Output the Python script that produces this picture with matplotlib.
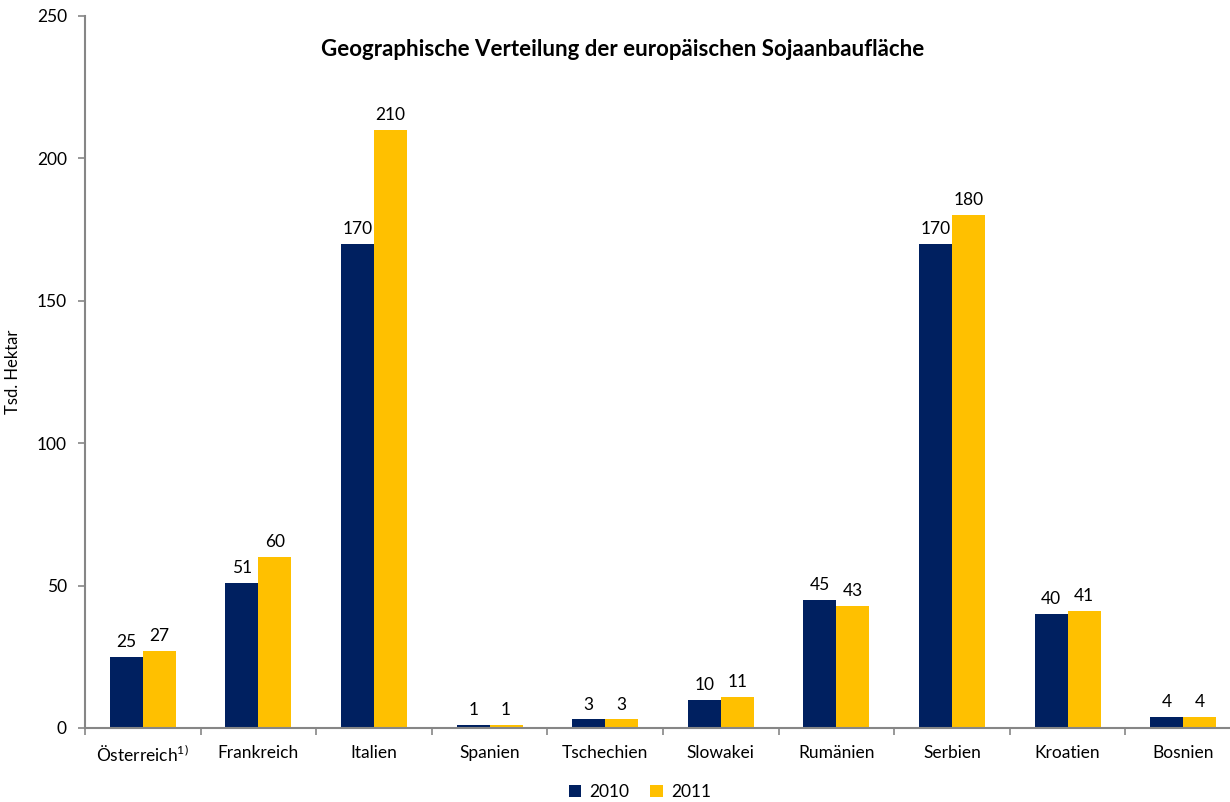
import matplotlib.pyplot as plt
import numpy as np

plt.rcParams['font.family'] = ['Lato', 'DejaVu Sans']

laender = ["Österreich$^{\\mathregular{1)}}$", "Frankreich", "Italien", "Spanien", "Tschechien",
           "Slowakei", "Rumänien", "Serbien", "Kroatien", "Bosnien"]
werte_2010 = [25, 51, 170, 1, 3, 10, 45, 170, 40, 4]
werte_2011 = [27, 60, 210, 1, 3, 11, 43, 180, 41, 4]

navy = "#002060"
gelb = "#FFC000"
grau = "#868686"

fig = plt.figure(figsize=(12.3, 8.02), dpi=100)
ax = fig.add_axes([85 / 1230, 74 / 802, (1241 - 85) / 1230, (729 - 17) / 802])

x = np.arange(len(laender))
w = 0.285
b1 = ax.bar(x - w / 2, werte_2010, w, color=navy, label="2010")
b2 = ax.bar(x + w / 2, werte_2011, w, color=gelb, label="2011")

for bars, vals in [(b1, werte_2010), (b2, werte_2011)]:
    for r, v in zip(bars, vals):
        ax.annotate(str(v), (r.get_x() + r.get_width() / 2, v), xytext=(0, 5),
                    textcoords="offset points", ha="center", va="bottom", fontsize=12.5)

ax.set_xlim(-0.5, len(laender) - 0.5)
ax.set_ylim(0, 250)
ax.set_yticks([0, 50, 100, 150, 200, 250])
ax.set_xticks(np.arange(-0.5, len(laender), 1), minor=False)
ax.set_xticklabels([])
ax.set_xticks(x, minor=True)
ax.set_xticklabels(laender, minor=True, fontsize=12.5)
ax.tick_params(axis="x", which="minor", length=0, pad=12)
ax.tick_params(axis="x", which="major", length=5, color=grau, width=1.2)
ax.tick_params(axis="y", length=5, color=grau, width=1.2, labelsize=12.5, pad=8)

for s in ["top", "right"]:
    ax.spines[s].set_visible(False)
for s in ["left", "bottom"]:
    ax.spines[s].set_color(grau)
    ax.spines[s].set_linewidth(1.5)

ax.set_ylabel("Tsd. Hektar", fontsize=12)
ax.yaxis.set_label_coords(-0.055, 0.5)

fig.text(623 / 1230, 1 - 50 / 802, "Geographische Verteilung der europäischen Sojaanbaufläche",
         ha="center", va="center", fontsize=16, fontweight="bold")

fig.legend(handles=[b1, b2], loc="center", bbox_to_anchor=(640 / 1230, 1 - 792 / 802),
           ncol=2, frameon=False, fontsize=12.5, handlelength=0.7, handleheight=0.7,
           columnspacing=1.2, handletextpad=0.5, borderpad=0)

fig.savefig("out.png", dpi=100)
